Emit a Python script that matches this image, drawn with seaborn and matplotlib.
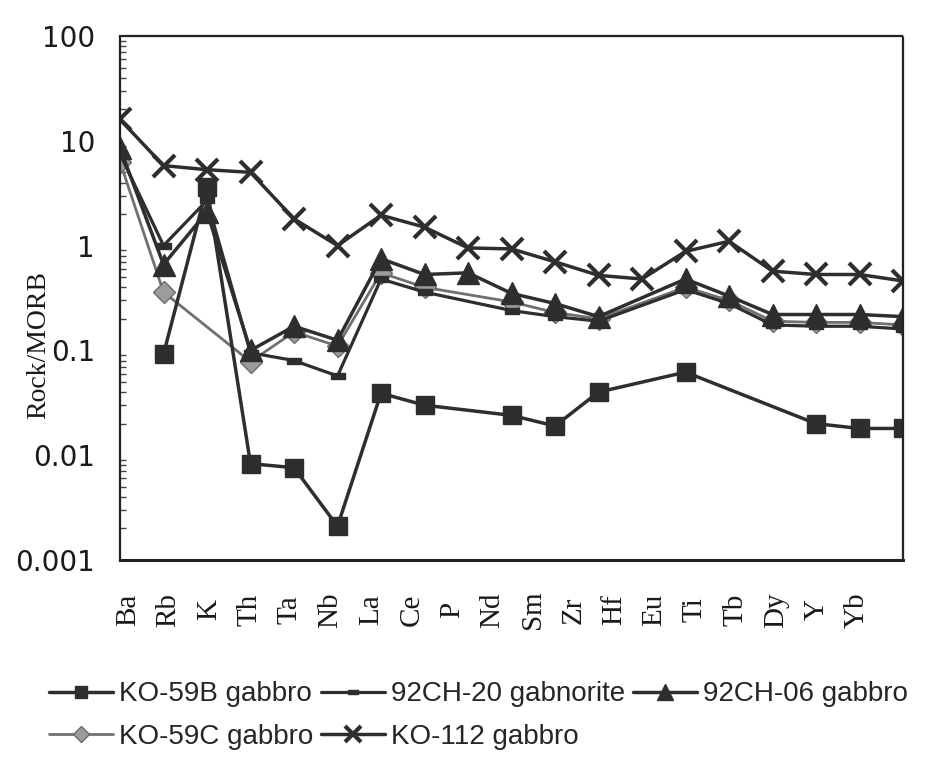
import numpy as np
import pandas as pd
import matplotlib
matplotlib.use("Agg")
import matplotlib.pyplot as plt
import seaborn as sns
from matplotlib.ticker import LogLocator

# ---------------- data ----------------
elements = ["Ba", "Rb", "K", "Th", "Ta", "Nb", "La", "Ce", "P", "Nd", "Sm",
            "Zr", "Hf", "Eu", "Ti", "Tb", "Dy", "Y", "Yb"]
nan = np.nan
ko59b = [nan, 0.092, 3.6, 0.0083, 0.0076, 0.0021, 0.039, 0.030, nan, 0.024,
         0.019, 0.040, nan, 0.062, nan, nan, 0.020, 0.018, 0.018]
ch20 = [7.5, 1.0, 2.7, 0.095, 0.080, 0.057, 0.48, 0.36, nan, 0.24,
        0.21, 0.19, nan, 0.38, 0.28, 0.175, 0.17, 0.17, 0.16]
ch06 = [8.5, 0.66, 2.1, 0.10, 0.17, 0.125, 0.75, 0.53, 0.55, 0.35,
        0.28, 0.21, nan, 0.48, 0.33, 0.22, 0.22, 0.22, 0.21]
ko59c = [6.3, 0.36, nan, 0.078, 0.15, 0.11, 0.55, 0.40, nan, 0.29,
         0.23, 0.20, nan, 0.40, 0.30, 0.19, 0.185, 0.185, 0.175]
ko112 = [16, 5.8, 5.3, 5.0, 1.8, 1.0, 1.95, 1.5, 0.95, 0.93,
         0.70, 0.52, 0.48, 0.88, 1.1, 0.57, 0.53, 0.53, 0.46]

ytick_vals = [0.001, 0.01, 0.1, 1, 10, 100]
ytick_labels = ["0.001", "0.01", "0.1", "1", "10", "100"]

# ---------------- styling ----------------
sns.set_theme(style="white")
plt.rcParams["font.family"] = ["DejaVu Sans"]

dark = "#2c2f2e"
grey_face = "#9c9c9c"
grey_edge = "#6a6a6a"
bar_marker = [(-1, -0.5), (1, -0.5), (1, 0.5), (-1, 0.5), (-1, -0.5)]

series = [
    # name, values, color, marker, msize, mface, medge, mew, lw
    ("KO-59C gabbro", ko59c, "#707070", "D", 11, grey_face, grey_edge, 1.0, 2.0),
    ("KO-59B gabbro", ko59b, dark, "s", 13, dark, dark, 1.0, 2.5),
    ("92CH-20 gabnorite", ch20, dark, bar_marker, 10, dark, dark, 1.0, 2.3),
    ("92CH-06 gabbro", ch06, dark, "^", 16, dark, dark, 1.0, 2.5),
    ("KO-112 gabbro", ko112, dark, "x", 16, dark, dark, 3.0, 2.5),
]

fig = plt.figure(figsize=(9.47, 7.62), dpi=100)
W, H = 947, 762
ax = fig.add_axes([120 / W, 1 - 560 / H, (903 - 120) / W, (560 - 36) / H])
ax.set_yscale("log")

x_idx = np.arange(len(elements))
for name, vals, col, mk, ms, mfc, mec, mew, lw in series:
    df = pd.DataFrame({"x": x_idx, "y": vals}).dropna()
    sns.lineplot(data=df, x="x", y="y", ax=ax, color=col, marker=mk,
                 markersize=ms, markerfacecolor=mfc, markeredgecolor=mec,
                 markeredgewidth=mew, linewidth=lw, label=name, legend=False,
                 errorbar=None, sort=True)

ax.set_xlim(0, len(elements) - 1)
ax.set_ylim(0.001, 100)

# y axis
ax.set_yticks(ytick_vals)
ax.set_yticklabels(ytick_labels, fontsize=20, color="#1a1a1a")
ax.yaxis.set_minor_locator(LogLocator(base=10, subs=np.arange(2, 10)))
ax.tick_params(axis="y", which="major", length=0, pad=18)
ax.tick_params(axis="y", which="minor", left=True, direction="in",
               length=4, width=1.0, color="#444444")
ax.set_ylabel("Rock/MORB", family=["Liberation Serif"], fontsize=20,
              color="#1a1a1a")
ax.yaxis.set_label_coords(-0.088, 0.41)

# x axis: label positions spread slightly narrower than the data positions
label_pos = np.linspace(0.18, 16.94, len(elements))
ax.set_xticks(label_pos)
ax.set_xticklabels(elements, rotation=90, va="center", ha="center",
                   family=["Liberation Serif"], fontsize=21, color="#1a1a1a")
ax.tick_params(axis="x", length=0, pad=36)
ax.set_xlabel("")

for side, sp in ax.spines.items():
    sp.set_visible(True)
    sp.set_color("#222222")
    sp.set_linewidth(2.2 if side == "bottom" else 1.6)
    sp.set_linestyle((0, (1.0, 0.8)))

# legend
handles, labels = ax.get_legend_handles_labels()
hmap = dict(zip(labels, handles))
order = ["KO-59B gabbro", "KO-59C gabbro", "92CH-20 gabnorite",
         "KO-112 gabbro", "92CH-06 gabbro"]
fig.legend([hmap[o] for o in order], order, ncol=3, loc="upper left",
           bbox_to_anchor=(30 / W, 1 - 662 / H), frameon=False,
           prop={"family": ["Liberation Sans"], "size": 20},
           handlelength=2.3, handletextpad=0.2, columnspacing=0.3,
           markerscale=0.7, labelspacing=0.6, borderpad=0.2)

fig.savefig("out.png", dpi=100)
